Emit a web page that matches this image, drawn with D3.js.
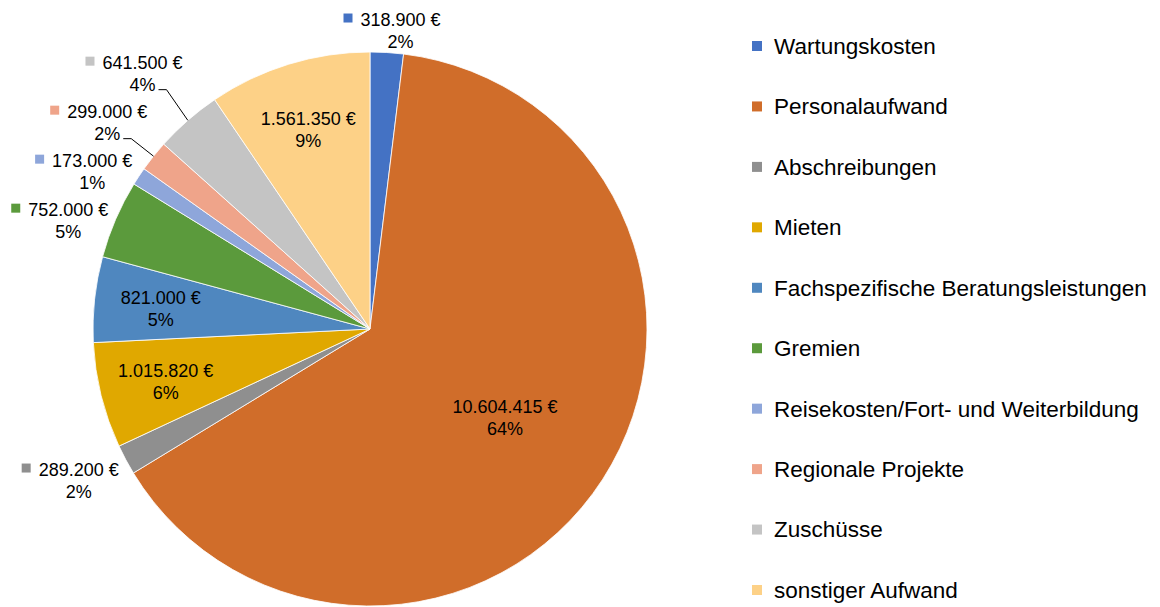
<!DOCTYPE html>
<html>
<head>
<meta charset="utf-8">
<script src="https://cdn.jsdelivr.net/npm/d3@7"></script>
<style>
  body { margin: 0; background: #fff; }
  svg { display: block; font-family: "Liberation Sans", Arial, sans-serif; }
  .slice { stroke: #fff; stroke-width: 1; stroke-opacity: 0.8; }
  .lbl { font-size: 18px; fill: #000; }
  .legend text { font-size: 22.5px; fill: #000; }
  .leader { stroke: #000; stroke-width: 1; fill: none; }
</style>
</head>
<body>
<svg width="1160" height="607"></svg>
<script>

var width = 1160, height = 607;
var cx = 370, cy = 329, radius = 277;

// data
const categories = [
    "Wartungskosten",
    "Personalaufwand",
    "Abschreibungen",
    "Mieten",
    "Fachspezifische Beratungsleistungen",
    "Gremien",
    "Reisekosten/Fort- und Weiterbildung",
    "Regionale Projekte",
    "Zuschüsse",
    "sonstiger Aufwand"
];
const values = [318900, 10604415, 289200, 1015820, 821000, 752000, 173000, 299000, 641500, 1561350];
const colors = ["#4472c4", "#d06d2a", "#8f8f8f", "#e0a800", "#4f87bf", "#5b9a3c", "#8ea6da", "#efa48a", "#c4c4c4", "#fdd187"];

var data = categories.map(function (c, i) {
    return { name: c, value: values[i], color: colors[i] };
});
var total = d3.sum(values);

var de = d3.formatLocale({ decimal: ",", thousands: ".", grouping: [3], currency: ["", " €"] });
var fmtVal = function (v) { return de.format(",")(v) + " €"; };
var fmtPct = d3.format(".0%");

var svg = d3.select("svg");

var pie = d3.pie().sort(null).value(function (d) { return d.value; });
var arcs = pie(data);
var arc = d3.arc().innerRadius(0).outerRadius(radius);

var g = svg.append("g").attr("transform", "translate(" + cx + "," + cy + ")");

g.selectAll("path")
    .data(arcs)
    .enter()
    .append("path")
    .attr("class", "slice")
    .attr("fill", function (d) { return d.data.color; })
    .attr("d", arc);

// labels
var markerSize = 9, markerGap = 8, lineGap = 11, gapX = 8, halfH = 22;
var clamp = function (v) { return Math.max(-1, Math.min(1, v)); };
var labelsG = svg.append("g");
var labels = [];

arcs.forEach(function (a) {
    var frac = a.data.value / total;
    var mid = (a.startAngle + a.endAngle) / 2;
    var sx = Math.sin(mid), sy = -Math.cos(mid);
    var inside = frac > 0.048;
    var lg = labelsG.append("g");
    var t1 = lg.append("text").attr("class", "lbl").attr("text-anchor", "middle").attr("dy", "0.35em").text(fmtVal(a.data.value));
    var t2 = lg.append("text").attr("class", "lbl").attr("text-anchor", "middle").attr("dy", "0.35em").text(fmtPct(frac));
    var w1 = t1.node().getComputedTextLength();
    var lab = { mid: mid, sx: sx, inside: inside, g: lg, t1: t1, t2: t2, w1: w1, color: a.data.color };
    if (inside) {
        var rl = radius * (frac > 0.5 ? 0.58 : 0.76);
        lab.x = cx + sx * rl;
        lab.y = cy + sy * rl + 2;
    } else {
        lab.halfW = (markerSize + markerGap + w1) / 2;
        lab.ex = cx + sx * radius;
        lab.ey = cy + sy * radius;
        lab.x = lab.ex + sx * gapX + clamp(sx * 1.6) * lab.halfW;
        lab.ideal = lab.ey + clamp(sy * 2) * halfH;
        lab.y = lab.ideal;
    }
    labels.push(lab);
});

// spread outside labels on each side so they don't overlap
function spread(list, step) {
    list.sort(function (p, q) { return p.ideal - q.ideal; });
    var clusters = [];
    list.forEach(function (l) {
        clusters.push({ items: [l], y: l.ideal });
        while (clusters.length > 1) {
            var prev = clusters[clusters.length - 2], cur = clusters[clusters.length - 1];
            if (prev.y + prev.items.length * step <= cur.y) break;
            var items = prev.items.concat(cur.items);
            var y0 = d3.mean(items, function (it, i) { return it.ideal - i * step; });
            clusters.splice(clusters.length - 2, 2, { items: items, y: y0 });
        }
    });
    clusters.forEach(function (c) {
        c.items.forEach(function (it, i) { it.y = c.y + i * step; });
    });
}
var outside = labels.filter(function (l) { return !l.inside; });
spread(outside.filter(function (l) { return l.sx < 0; }), 49);
spread(outside.filter(function (l) { return l.sx >= 0; }), 49);

labels.forEach(function (l) {
    if (l.inside) {
        l.t1.attr("x", l.x).attr("y", l.y - lineGap);
        l.t2.attr("x", l.x).attr("y", l.y + lineGap);
        return;
    }
    var textC = l.x + (markerSize + markerGap) / 2;
    var left = l.x - l.halfW;
    l.t1.attr("x", textC).attr("y", l.y - lineGap);
    l.t2.attr("x", textC).attr("y", l.y + lineGap);
    l.g.append("rect")
        .attr("x", left)
        .attr("y", l.y - lineGap - markerSize / 2 - 1.5)
        .attr("width", markerSize)
        .attr("height", markerSize)
        .attr("fill", l.color);

    // leader line when label sits away from its slice (left side only)
    if (l.sx > -0.3) return;
    var w2 = l.t2.node().getComputedTextLength();
    var px, py;
    if (l.ey > l.y + 16) {
        px = textC + w2 / 2 + 3; py = l.y + 16;
    } else {
        px = l.x + l.halfW + 6; py = l.y - 5;
    }
    if (Math.hypot(l.ex - px, l.ey - py) > 18) {
        labelsG.append("path")
            .attr("class", "leader")
            .attr("d", d3.line()([[px, py], [px + 8, py], [l.ex, l.ey]]));
    }
});

// legend
var yLegend = d3.scalePoint().domain(categories).range([46, 590]);
var legend = svg.append("g").attr("class", "legend");
var items = legend.selectAll("g")
    .data(data)
    .enter()
    .append("g")
    .attr("transform", function (d) { return "translate(752," + yLegend(d.name) + ")"; });
items.append("rect")
    .attr("x", 0)
    .attr("y", -5)
    .attr("width", 10)
    .attr("height", 10)
    .attr("fill", function (d) { return d.color; });
items.append("text")
    .attr("x", 22)
    .attr("dy", "0.35em")
    .text(function (d) { return d.name; });

</script>
</body>
</html>
